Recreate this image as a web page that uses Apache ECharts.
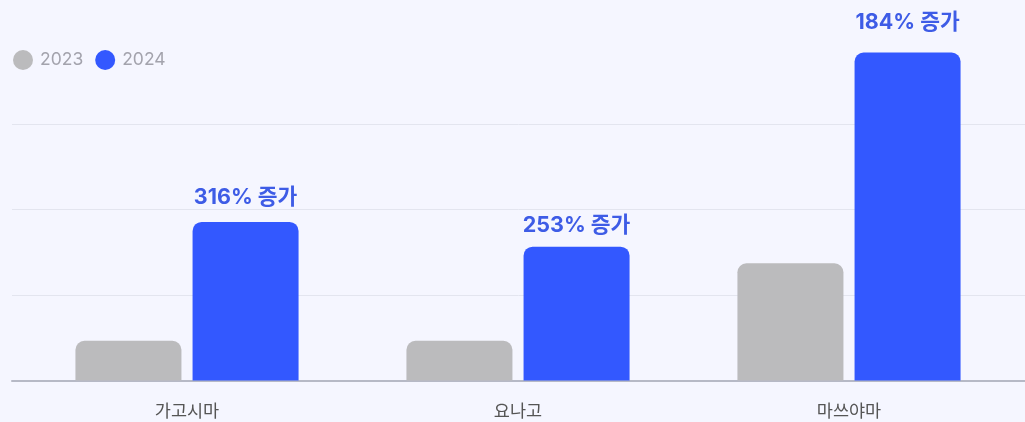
<!DOCTYPE html>
<html>
<head>
<meta charset="utf-8">
<script src="https://cdn.jsdelivr.net/npm/echarts@6/dist/echarts.min.js"></script>
<style>
html,body{margin:0;padding:0;background:#f5f6ff;}
#c{width:1025px;height:422px;}
</style>
</head>
<body>
<div id="c"></div>
<script>
const categories = ['가고시마', '요나고', '마쓰야마'];
const seriesNames = ['2023', '2024'];
const values2023 = [4650, 4650, 13700];
const values2024 = [18540, 15650, 38350];
const growthLabels = ['316% 증가', '253% 증가', '184% 증가'];
const labelGaps = [14, 10, 19];
const yMin = 0, yMax = 40000, yStep = 10000;

const chart = echarts.init(document.getElementById('c'), null, {renderer: 'canvas'});
const font = "'Noto Sans CJK KR', 'Noto Sans', sans-serif";
const latinFont = "Inter, 'Noto Sans CJK KR', sans-serif";

chart.setOption({
  backgroundColor: '#f5f6ff',
  animation: false,
  textStyle: {fontFamily: font},
  legend: {
    left: 8, top: 45,
    icon: 'circle',
    itemWidth: 20, itemHeight: 20,
    itemGap: 12,
    textStyle: {color: '#a3a3ad', fontSize: 17.5, fontFamily: latinFont, padding: [0, 0, 0, 2]},
    data: seriesNames
  },
  grid: [
    {left: 21.5, right: 10.5, top: 38.5, bottom: 41.5, containLabel: false},
    {left: 12, right: 0, top: 38.5, bottom: 41.5, containLabel: false}
  ],
  xAxis: [
    {
      type: 'category',
      gridIndex: 0,
      data: categories,
      axisLine: {show: false},
      axisTick: {show: false},
      axisLabel: {color: '#555', fontSize: 17.5, margin: 21, fontFamily: font}
    },
    {
      type: 'value',
      gridIndex: 1,
      min: 0, max: 1,
      axisLabel: {show: false},
      axisTick: {show: false},
      splitLine: {show: false},
      axisLine: {show: true, lineStyle: {color: '#b6b9c6', width: 2}}
    }
  ],
  yAxis: [
    {
      type: 'value',
      gridIndex: 0,
      min: yMin, max: yMax, interval: yStep,
      axisLabel: {show: false},
      axisLine: {show: false},
      axisTick: {show: false},
      splitLine: {show: false}
    },
    {
      type: 'value',
      gridIndex: 1,
      min: yMin, max: yMax, interval: yStep,
      axisLabel: {show: false},
      axisLine: {show: false},
      axisTick: {show: false},
      splitLine: {show: true, showMaxLine: false, showMinLine: false, lineStyle: {color: '#e3e5ef', width: 1}}
    }
  ],
  series: [
    {
      name: seriesNames[0],
      type: 'bar',
      xAxisIndex: 0, yAxisIndex: 0,
      data: values2023,
      barWidth: 106,
      barGap: '10.5%',
      z: 3,
      itemStyle: {color: '#bbbbbd', borderRadius: [9, 9, 0, 0]}
    },
    {
      name: seriesNames[1],
      type: 'bar',
      xAxisIndex: 0, yAxisIndex: 0,
      z: 3,
      data: values2024.map((v, i) => ({
        value: v,
        label: {
          show: true,
          position: 'top',
          distance: labelGaps[i],
          formatter: growthLabels[i],
          color: '#3e5ce6',
          fontSize: 21.5,
          fontWeight: 'bold',
          fontFamily: latinFont
        }
      })),
      barWidth: 106,
      itemStyle: {color: '#3358ff', borderRadius: [9, 9, 0, 0]}
    }
  ]
});
</script>
</body>
</html>
